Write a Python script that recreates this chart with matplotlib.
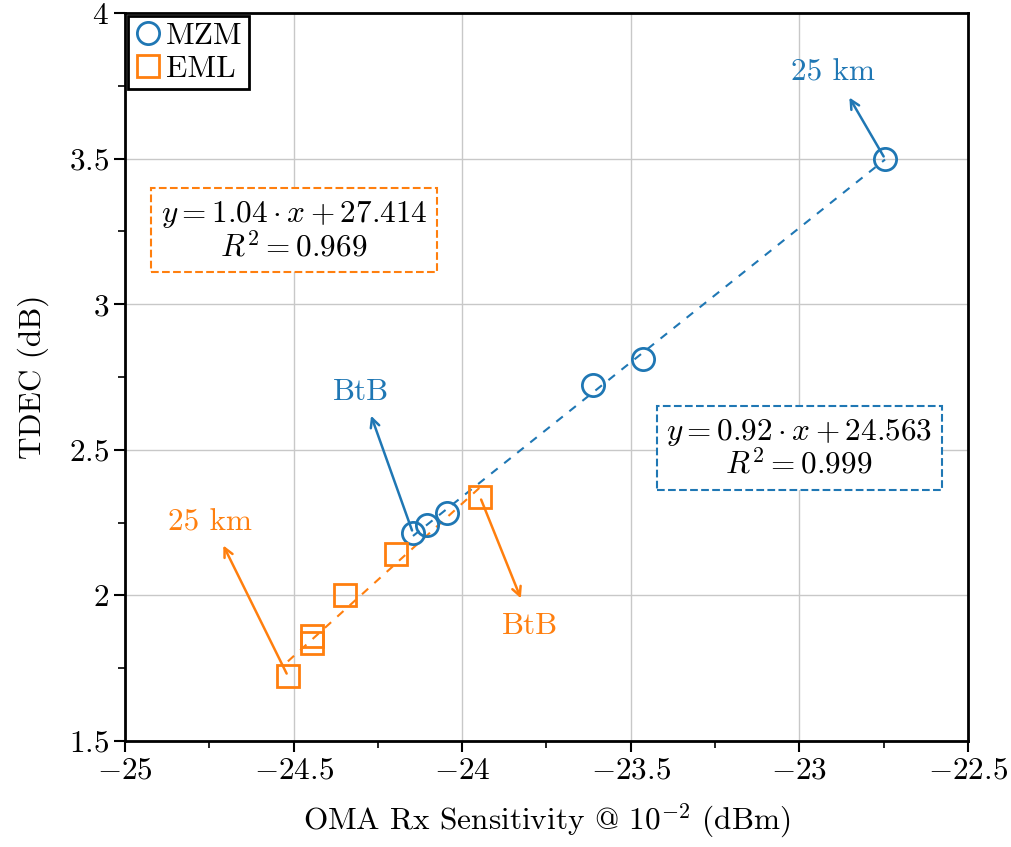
import numpy as np
import matplotlib
matplotlib.use("Agg")
import matplotlib.pyplot as plt
from matplotlib.ticker import MultipleLocator, FuncFormatter

plt.rcParams['font.family'] = 'serif'
plt.rcParams['font.serif'] = ['cmr10', 'DejaVu Serif']
plt.rcParams['mathtext.fontset'] = 'cm'
plt.rcParams['axes.formatter.use_mathtext'] = True
plt.rcParams['axes.unicode_minus'] = True

# Data
mzm_x = [-24.146, -24.104, -24.045, -23.612, -23.464, -22.746]
mzm_y = [2.214, 2.242, 2.283, 2.722, 2.812, 3.499]
eml_x = [-23.947, -24.196, -24.348, -24.446, -24.446, -24.517]
eml_y = [2.338, 2.142, 2.001, 1.861, 1.836, 1.723]

mzm_eq = [r"$y = 0.92 \cdot x + 24.563$", r"$R^2 = 0.999$"]
eml_eq = [r"$y = 1.04 \cdot x + 27.414$", r"$R^2 = 0.969$"]

blue = '#1f77b4'
orange = '#ff7f0e'
fs = 22.5

fig = plt.figure(figsize=(10.11, 8.47), dpi=100)
ax = fig.add_axes([125/1011, 1-741/847, (968-125)/1011, (741-13)/847])

# fit lines
for xs, ys, c in [(mzm_x, mzm_y, blue), (eml_x, eml_y, orange)]:
    p = np.polyfit(xs, ys, 1)
    xx = np.array([min(xs), max(xs)])
    ax.plot(xx, np.polyval(p, xx), '--', color=c, lw=1.5, dashes=(4, 4), zorder=2)

ax.plot(mzm_x, mzm_y, 'o', ms=16, mfc='none', mec=blue, mew=2, ls='none', label='MZM', zorder=3)
ax.plot(eml_x, eml_y, 's', ms=15.5, mfc='none', mec=orange, mew=2, ls='none', label='EML', zorder=3)

# annotations
arr = dict(arrowstyle='->', lw=1.8, mutation_scale=16)
ax.annotate('', xy=(-24.273, 2.626), xytext=(mzm_x[0], mzm_y[0]),
            arrowprops=dict(color=blue, **arr))
ax.text(-24.30, 2.70, 'BtB', color=blue, fontsize=fs, ha='center', va='center')
ax.annotate('', xy=(-22.856, 3.718), xytext=(mzm_x[-1], mzm_y[-1]),
            arrowprops=dict(color=blue, **arr))
ax.text(-22.90, 3.794, '25 km', color=blue, fontsize=fs, ha='center', va='center')
ax.annotate('', xy=(-24.712, 2.180), xytext=(eml_x[-1], eml_y[-1]),
            arrowprops=dict(color=orange, **arr))
ax.text(-24.748, 2.249, '25 km', color=orange, fontsize=fs, ha='center', va='center')
ax.annotate('', xy=(-23.823, 1.981), xytext=(eml_x[0], eml_y[0]),
            arrowprops=dict(color=orange, **arr))
ax.text(-23.799, 1.895, 'BtB', color=orange, fontsize=fs, ha='center', va='center')

# equation boxes
ax.text(-24.499, 3.251, "\n".join(eml_eq), fontsize=fs, ha='center', va='center',
        multialignment='center', linespacing=1.05,
        bbox=dict(boxstyle='square,pad=0.3', fc='white', ec=orange, ls='--', lw=1.5))
ax.text(-23.001, 2.503, "\n".join(mzm_eq), fontsize=fs, ha='center', va='center',
        multialignment='center', linespacing=1.05,
        bbox=dict(boxstyle='square,pad=0.3', fc='white', ec=blue, ls='--', lw=1.5))

ax.set_xlim(-25, -22.5)
ax.set_ylim(1.5, 4)
ax.xaxis.set_major_locator(MultipleLocator(0.5))
ax.xaxis.set_minor_locator(MultipleLocator(0.25))
ax.yaxis.set_major_locator(MultipleLocator(0.5))
ax.yaxis.set_minor_locator(MultipleLocator(0.25))
fmt = FuncFormatter(lambda v, p: r'$%s$' % ('%g' % v))
ax.xaxis.set_major_formatter(fmt)
ax.yaxis.set_major_formatter(fmt)
ax.grid(True, which='major', color='#c8c8c8', lw=1)
ax.set_axisbelow(True)
ax.tick_params(which='major', length=8, width=1.5, labelsize=fs, direction='out')
ax.tick_params(which='minor', length=5, width=1.2, direction='out')
for s in ax.spines.values():
    s.set_linewidth(2)
    s.set_color('black')

ax.set_xlabel(r'OMA Rx Sensitivity @ $10^{-2}$ (dBm)', fontsize=fs, labelpad=12)
ax.set_ylabel('TDEC (dB)', fontsize=fs, labelpad=14)

leg = ax.legend(loc='upper left', fontsize=fs, frameon=True, fancybox=False,
                edgecolor='black', framealpha=1, handlelength=0.9, handletextpad=0.1,
                borderpad=0.2, borderaxespad=0.1, labelspacing=0.15)
leg.get_frame().set_linewidth(2)

fig.savefig('out.png', dpi=100)
